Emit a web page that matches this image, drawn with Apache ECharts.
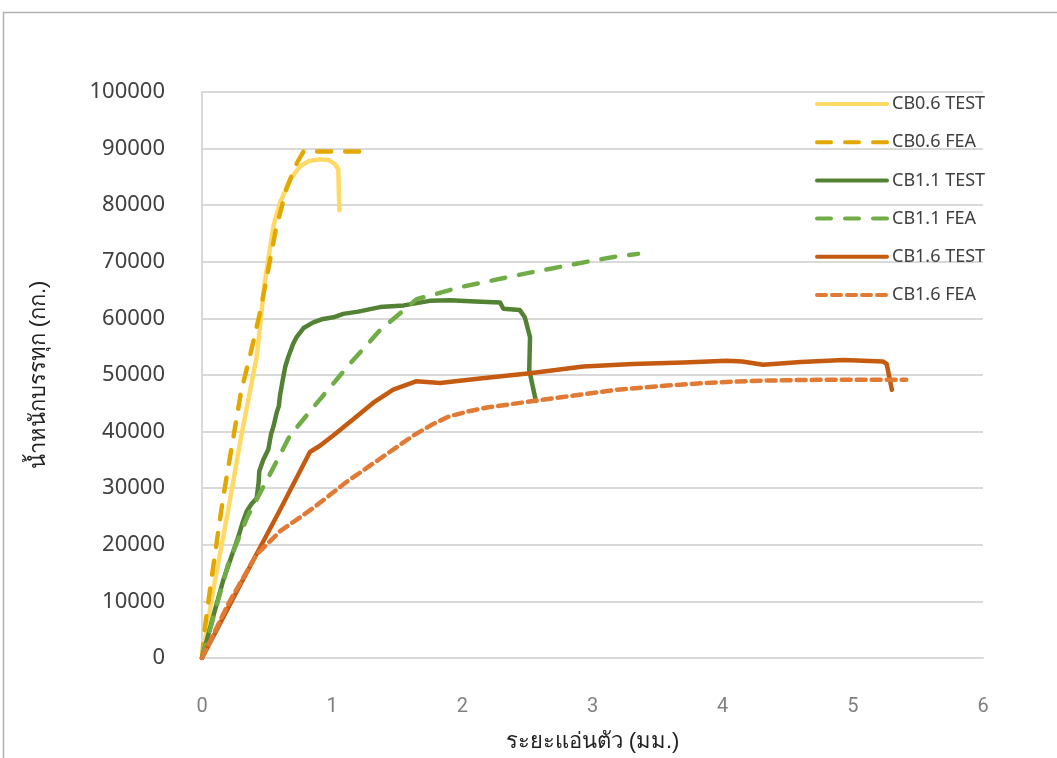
<!DOCTYPE html>
<html><head><meta charset="utf-8">
<script src="https://cdn.jsdelivr.net/npm/echarts@6/dist/echarts.min.js"></script>
<style>html,body{margin:0;padding:0;background:#fff}#c{width:1057px;height:758px}</style>
</head><body><div id="c"></div>
<script>
const xTicks = [0,1,2,3,4,5,6];
const yTicks = [0,10000,20000,30000,40000,50000,60000,70000,80000,90000,100000];
const seriesNames = ['CB0.6 TEST','CB0.6 FEA','CB1.1 TEST','CB1.1 FEA','CB1.6 TEST','CB1.6 FEA'];
const cb06Test = [[0,0],[0.09,12500],[0.2,26000],[0.3,39000],[0.42,53200],[0.48,66000],[0.55,76500],[0.6,80500],[0.68,84600],[0.75,86800],[0.82,87800],[0.9,88100],[0.97,88000],[1.02,87300],[1.047,86400],[1.055,79100]];
const cb06Fea = [[0,0],[0.02,5000],[0.07,13500],[0.16,28000],[0.3,47000],[0.37,53500],[0.45,61500],[0.57,76000],[0.65,83000],[0.73,87500],[0.78,89500],[1.3,89500]];
const cb11Test = [[0,0],[0.1,8500],[0.16,13500],[0.215,17200],[0.25,19500],[0.28,21500],[0.31,23800],[0.343,25900],[0.38,27200],[0.42,28200],[0.435,31000],[0.44,33000],[0.47,35000],[0.51,36900],[0.53,39500],[0.55,41000],[0.573,43300],[0.59,44500],[0.6,46500],[0.625,49700],[0.64,51500],[0.66,53000],[0.7,55500],[0.727,56700],[0.78,58300],[0.855,59300],[0.93,59900],[1.01,60200],[1.085,60800],[1.2,61200],[1.367,62000],[1.55,62300],[1.75,63100],[1.905,63200],[2.1,63000],[2.29,62800],[2.315,61700],[2.44,61500],[2.48,60200],[2.52,56700],[2.514,50900],[2.565,45400]];
const cb11Fea = [[0,0],[0.2,16500],[0.35,25000],[0.484,30800],[0.676,39300],[0.906,45700],[1.137,52000],[1.367,57900],[1.649,63400],[2.0,65600],[2.5,68000],[3.0,70200],[3.2,71000],[3.35,71400]];
const cb16Test = [[0,0],[0.3,13200],[0.6,26200],[0.829,36400],[0.906,37500],[1.008,39300],[1.162,42200],[1.316,45100],[1.469,47400],[1.649,48900],[1.828,48600],[2.135,49400],[2.52,50300],[2.93,51500],[3.31,51950],[3.7,52200],[4.03,52500],[4.15,52400],[4.31,51800],[4.6,52300],[4.93,52650],[5.23,52400],[5.26,51950],[5.30,47400]];
const cb16Fea = [[0,0],[0.2,9500],[0.42,18300],[0.6,22400],[0.855,26500],[1.11,31100],[1.367,35200],[1.623,39300],[1.78,41400],[1.9,42700],[2.05,43600],[2.2,44300],[2.545,45400],[2.9,46500],[3.185,47400],[3.55,48100],[3.95,48700],[4.3,49000],[4.72,49150],[5.41,49150]];

const chart = echarts.init(document.getElementById('c'));
const mk = (name, data, color, type, width) => ({
  name, type:'line', data, symbol:'none', smooth:false, animation:false,
  lineStyle:{color, width, type, cap:'round', join:'round'}, itemStyle:{color}
});
chart.setOption({
  animation:false,
  graphic:[{type:'rect', shape:{x:3.5,y:12.5,width:1200,height:900}, style:{fill:'none', stroke:'#b0b0b0', lineWidth:1.5}, silent:true}],
  grid:{left:202, right:74, top:92, bottom:93},
  legend:{
    orient:'vertical', left:810, top:90, itemWidth:70, itemHeight:20, itemGap:20.2,
    itemStyle:{opacity:0},
    lineStyle:{width:4, cap:'round'},
    textStyle:{fontFamily:'Noto Sans', fontSize:18, color:'#404040'},
    data:seriesNames
  },
  xAxis:{type:'value', min:0, max:6, interval:1,
    axisLine:{show:true, lineStyle:{color:'#d9d9d9', width:2}}, axisTick:{show:false}, splitLine:{show:false},
    axisLabel:{margin:39, fontFamily:'Liberation Sans Narrow, Roboto', fontSize:20, color:'#808080'},
    name:'ระยะแอ่นตัว (มม.)', nameLocation:'middle', nameGap:73,
    nameTextStyle:{fontSize:22, color:'#222'}},
  yAxis:{type:'value', min:0, max:100000, interval:10000,
    axisLine:{show:true, lineStyle:{color:'#d9d9d9', width:2}}, axisTick:{show:false},
    splitLine:{show:true, lineStyle:{color:'#d9d9d9', width:2}},
    axisLabel:{margin:37, fontFamily:'Noto Sans', fontSize:22, color:'#404040', formatter: v => String(v)},
    name:'น้ำหนักบรรทุก (กก.)', nameLocation:'middle', nameGap:152, nameRotate:90,
    nameTextStyle:{fontSize:22, color:'#222'}},
  series:[
    mk('CB0.6 TEST', cb06Test, '#FFD966', 'solid', 4.5),
    mk('CB0.6 FEA', cb06Fea, '#E3A800', [14,14], 4.5),
    mk('CB1.1 TEST', cb11Test, '#548235', 'solid', 4.5),
    mk('CB1.1 FEA', cb11Fea, '#70AD47', [14,14], 4.5),
    mk('CB1.6 TEST', cb16Test, '#C55A11', 'solid', 4.5),
    mk('CB1.6 FEA', cb16Fea, '#E07A35', [9,6], 4.5)
  ]
});
</script></body></html>
